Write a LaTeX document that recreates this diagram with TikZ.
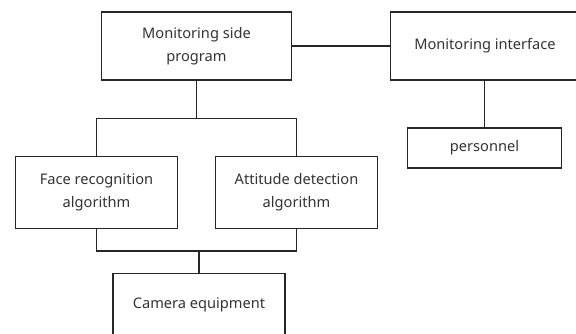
\documentclass[tikz,border=0pt]{standalone}
\usepackage{fontspec}
\setmainfont{Noto Sans}
\begin{document}
\begin{tikzpicture}[x=1pt,y=-1pt,
  lbl/.style={text=black!80, font=\fontsize{14.6}{23}\selectfont, align=center},
  box/.style={draw=black!85, line width=1.3pt, fill=white, inner sep=0pt, lbl},
  link/.style={draw=black!85, line width=1.3pt}]
\useasboundingbox (0,0) rectangle (576,334);
\clip (0,0) rectangle (576,334);
% boxes
\node[box, minimum width=190pt, minimum height=68pt] (prog) at (196.5,46) {Monitoring side\\program};
\node[box, minimum width=200pt, minimum height=68pt, anchor=west] (ui) at (390,46) {};
\node[lbl] (uitext) at (485,46) {Monitoring interface};
\node[box, minimum width=154pt, minimum height=40pt] (pers) at (484.5,148) {personnel};
\node[box, minimum width=162pt, minimum height=72pt] (face) at (96.5,192.5) {Face recognition\\algorithm};
\node[box, minimum width=162pt, minimum height=72pt] (att) at (296.5,192.5) {Attitude detection\\algorithm};
\node[box, minimum width=172pt, minimum height=66pt, anchor=north] (cam) at (199,273) {};
\node[lbl] (camtext) at (199,305) {Camera equipment};
% connectors
\coordinate (top) at (196.5,118.5);
\coordinate (bot) at (199,251);
\draw[link] (prog.east) -- (ui.west);
\draw[link] (ui.south -| pers.north) -- (pers.north);
\draw[link] (prog.south) -- (top);
\draw[link] (face.north) |- (top) -| (att.north);
\draw[link] (face.south) |- (bot) -| (att.south);
\draw[link] (bot) -- (cam.north);
\end{tikzpicture}
\end{document}
